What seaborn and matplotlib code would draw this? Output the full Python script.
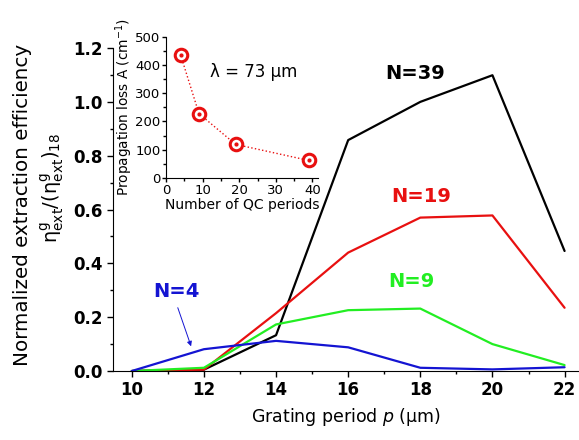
import pandas as pd
import matplotlib
matplotlib.use('Agg')
import matplotlib.pyplot as plt
import seaborn as sns
from matplotlib.ticker import MultipleLocator

# grating period sweep
period = [10, 12, 14, 16, 18, 20, 22]
eff_n39 = [0.0, 0.005, 0.133, 0.858, 1.0, 1.099, 0.446]
eff_n19 = [0.0, 0.005, 0.215, 0.44, 0.57, 0.578, 0.235]
eff_n9 = [0.0, 0.012, 0.173, 0.226, 0.232, 0.10, 0.022]
eff_n4 = [0.0, 0.081, 0.112, 0.088, 0.012, 0.006, 0.014]

# inset: propagation loss vs number of QC periods
qc_periods = [4, 9, 19, 39]
prop_loss = [435, 228, 119, 62]

series = {'N=39': eff_n39, 'N=19': eff_n19, 'N=9': eff_n9, 'N=4': eff_n4}
colors = {'N=39': '#000000', 'N=19': '#e81010', 'N=9': '#22ee22', 'N=4': '#1414d2'}

rows = []
for name, vals in series.items():
    for p, v in zip(period, vals):
        rows.append({'period': p, 'eff': v, 'N': name})
df = pd.DataFrame(rows)
df_loss = pd.DataFrame({'N': qc_periods, 'loss': prop_loss})

sns.set_style('ticks')
plt.rcParams['font.family'] = ['DejaVu Sans']
plt.rcParams['mathtext.fontset'] = 'dejavusans'
plt.rcParams['mathtext.default'] = 'regular'
for key in ['text.color', 'axes.labelcolor', 'xtick.color', 'ytick.color', 'axes.edgecolor']:
    plt.rcParams[key] = 'black'

fig = plt.figure(figsize=(5.79, 4.40), dpi=100)
ax = fig.add_axes([0.1946, 0.1568, 0.8054, 0.734])

sns.lineplot(data=df, x='period', y='eff', hue='N', palette=colors,
             linewidth=1.6, legend=False, ax=ax)

ax.set_xlim(9.47, 22.4)
ax.set_ylim(0, 1.2)
ax.xaxis.set_major_locator(MultipleLocator(2))
ax.xaxis.set_minor_locator(MultipleLocator(1))
ax.yaxis.set_major_locator(MultipleLocator(0.2))
ax.yaxis.set_minor_locator(MultipleLocator(0.1))
ax.tick_params(which='major', length=4, width=1, direction='out', labelsize=12)
ax.tick_params(which='minor', length=2.5, width=1, direction='out')
for lab in ax.get_xticklabels() + ax.get_yticklabels():
    lab.set_fontweight('bold')
ax.yaxis.set_major_formatter(matplotlib.ticker.FormatStrFormatter('%.1f'))
sns.despine(ax=ax)
ax.set_xlabel(r'Grating period $\mathit{p}$ (µm)', fontsize=12.5, labelpad=5)
ax.set_ylabel('')

fig.text(23 / 579, 1 - 205 / 440, 'Normalized extraction efficiency',
         rotation=90, ha='center', va='center', fontsize=14.3)
fig.text(52 / 579, 1 - 188 / 440,
         r'$\eta^{g}_{ext}/(\eta^{g}_{ext})_{18}$',
         rotation=90, ha='center', va='center', fontsize=14)

ax.text(17.85, 1.106, 'N=39', color=colors['N=39'], fontsize=14,
        fontweight='bold', ha='center', va='center')
ax.text(18.03, 0.647, 'N=19', color=colors['N=19'], fontsize=14,
        fontweight='bold', ha='center', va='center')
ax.text(17.76, 0.331, 'N=9', color=colors['N=9'], fontsize=14,
        fontweight='bold', ha='center', va='center')
ax.text(11.24, 0.294, 'N=4', color=colors['N=4'], fontsize=14,
        fontweight='bold', ha='center', va='center')
ax.annotate('', xy=(11.67, 0.082), xytext=(11.25, 0.245),
            arrowprops=dict(arrowstyle='-|>', color=colors['N=4'],
                            lw=0.7, mutation_scale=7))

# inset
ins = fig.add_axes([0.2867, 0.5955, 0.2625, 0.321])
sns.lineplot(data=df_loss, x='N', y='loss', color='#e81010', linestyle=':',
             linewidth=1, ax=ins)
ins.plot(qc_periods, prop_loss, linestyle='none', marker='o', markersize=9,
         markerfacecolor='white', markeredgecolor='#e81010', markeredgewidth=2.2)
ins.plot(qc_periods, prop_loss, linestyle='none', marker='o', markersize=2,
         color='#e81010')
ins.set_xlim(0, 41.5)
ins.set_ylim(0, 500)
ins.xaxis.set_major_locator(MultipleLocator(10))
ins.xaxis.set_minor_locator(MultipleLocator(5))
ins.yaxis.set_major_locator(MultipleLocator(100))
ins.yaxis.set_minor_locator(MultipleLocator(50))
ins.tick_params(which='major', length=3, width=1, direction='out', labelsize=9.5, pad=1)
ins.tick_params(which='minor', length=2, width=1, direction='out')
ins.patch.set_alpha(0)
sns.despine(ax=ins)
ins.set_xlabel('Number of QC periods', fontsize=10, labelpad=1)
ins.set_ylabel(r'Propagation loss A (cm$^{-1}$)', fontsize=9.8, labelpad=0)
ins.text(24, 376, 'λ = 73 µm', fontsize=12, ha='center', va='center')

fig.savefig('out.png', dpi=100)
